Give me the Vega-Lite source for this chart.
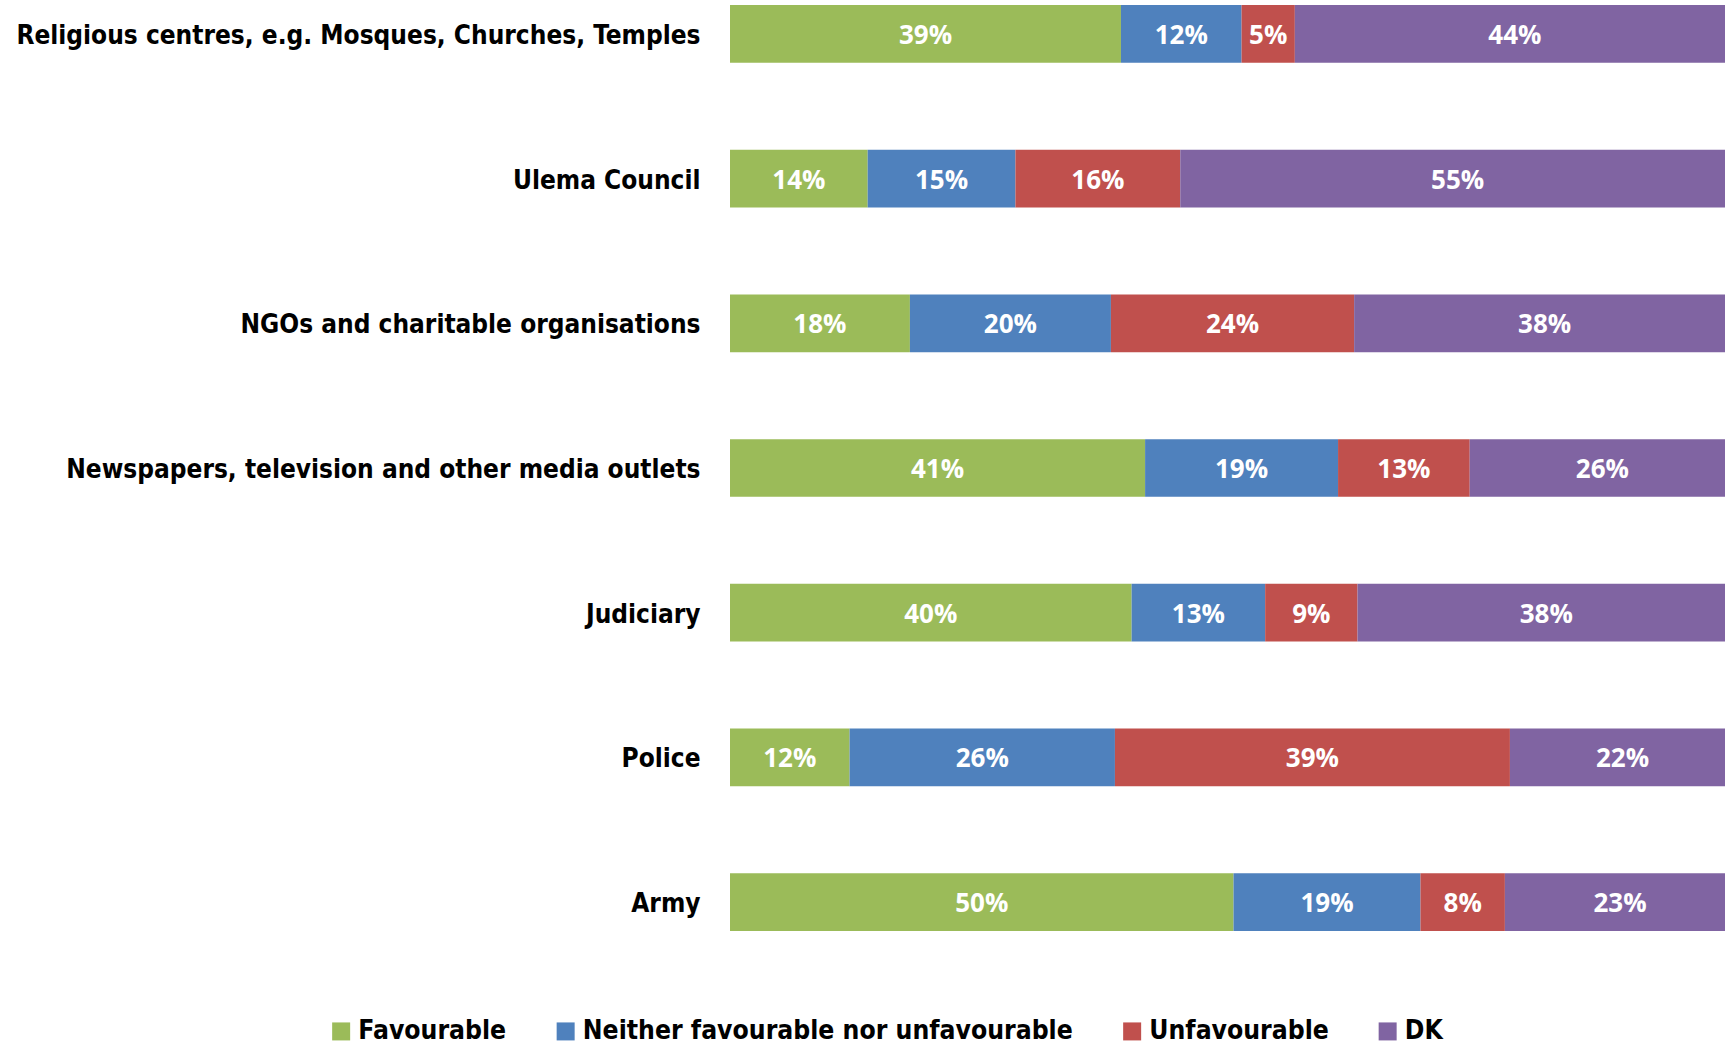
{
  "$schema": "https://vega.github.io/schema/vega-lite/v6.json",
  "width": 995,
  "height": 936,
  "autosize": {"type": "none"},
  "padding": {"left": 730, "top": 0, "right": 0, "bottom": 110},
  "background": "white",
  "config": {"view": {"stroke": null}},
  "data": {
    "values": [
      {"org": "Religious centres, e.g. Mosques, Churches, Temples", "cat": "Favourable", "k": 1, "v": 0.389},
      {"org": "Religious centres, e.g. Mosques, Churches, Temples", "cat": "Neither favourable nor unfavourable", "k": 2, "v": 0.120},
      {"org": "Religious centres, e.g. Mosques, Churches, Temples", "cat": "Unfavourable", "k": 3, "v": 0.053},
      {"org": "Religious centres, e.g. Mosques, Churches, Temples", "cat": "DK", "k": 4, "v": 0.438},
      {"org": "Ulema Council", "cat": "Favourable", "k": 1, "v": 0.137},
      {"org": "Ulema Council", "cat": "Neither favourable nor unfavourable", "k": 2, "v": 0.147},
      {"org": "Ulema Council", "cat": "Unfavourable", "k": 3, "v": 0.164},
      {"org": "Ulema Council", "cat": "DK", "k": 4, "v": 0.552},
      {"org": "NGOs and charitable organisations", "cat": "Favourable", "k": 1, "v": 0.179},
      {"org": "NGOs and charitable organisations", "cat": "Neither favourable nor unfavourable", "k": 2, "v": 0.200},
      {"org": "NGOs and charitable organisations", "cat": "Unfavourable", "k": 3, "v": 0.242},
      {"org": "NGOs and charitable organisations", "cat": "DK", "k": 4, "v": 0.379},
      {"org": "Newspapers, television and other media outlets", "cat": "Favourable", "k": 1, "v": 0.413},
      {"org": "Newspapers, television and other media outlets", "cat": "Neither favourable nor unfavourable", "k": 2, "v": 0.192},
      {"org": "Newspapers, television and other media outlets", "cat": "Unfavourable", "k": 3, "v": 0.131},
      {"org": "Newspapers, television and other media outlets", "cat": "DK", "k": 4, "v": 0.264},
      {"org": "Judiciary", "cat": "Favourable", "k": 1, "v": 0.400},
      {"org": "Judiciary", "cat": "Neither favourable nor unfavourable", "k": 2, "v": 0.133},
      {"org": "Judiciary", "cat": "Unfavourable", "k": 3, "v": 0.092},
      {"org": "Judiciary", "cat": "DK", "k": 4, "v": 0.376},
      {"org": "Police", "cat": "Favourable", "k": 1, "v": 0.119},
      {"org": "Police", "cat": "Neither favourable nor unfavourable", "k": 2, "v": 0.264},
      {"org": "Police", "cat": "Unfavourable", "k": 3, "v": 0.393},
      {"org": "Police", "cat": "DK", "k": 4, "v": 0.224},
      {"org": "Army", "cat": "Favourable", "k": 1, "v": 0.501},
      {"org": "Army", "cat": "Neither favourable nor unfavourable", "k": 2, "v": 0.186},
      {"org": "Army", "cat": "Unfavourable", "k": 3, "v": 0.084},
      {"org": "Army", "cat": "DK", "k": 4, "v": 0.229}
    ]
  },
  "encoding": {
    "y": {
      "field": "org",
      "type": "nominal",
      "sort": null,
      "scale": {"paddingInner": 0.601, "paddingOuter": 0.0346},
      "axis": {
        "title": null,
        "domain": false,
        "ticks": false,
        "labelPadding": 30,
        "labelLimit": 0,
        "labelOffset": 2,
        "labelFont": "'DejaVu Sans Condensed', sans-serif",
        "labelFontSize": 26,
        "labelFontWeight": "bold",
        "labelColor": "black"
      }
    }
  },
  "layer": [
    {
      "mark": {"type": "bar", "clip": true},
      "encoding": {
        "x": {
          "field": "v",
          "type": "quantitative",
          "stack": "normalize",
          "scale": {"domain": [0, 0.99], "nice": false, "zero": true},
          "axis": null
        },
        "color": {
          "field": "cat",
          "type": "nominal",
          "scale": {
            "domain": ["Favourable", "Neither favourable nor unfavourable", "Unfavourable", "DK"],
            "range": ["#9BBB59", "#4F81BD", "#C0504D", "#8064A2"]
          },
          "legend": {
            "orient": "none",
            "legendX": -402,
            "legendY": 1018,
            "direction": "horizontal",
            "title": null,
            "padding": 0,
            "symbolType": "square",
            "symbolSize": 324,
            "symbolStrokeWidth": 0,
            "labelFont": "'DejaVu Sans Condensed', sans-serif",
            "labelFontSize": 26.3,
            "labelFontWeight": "bold",
            "labelColor": "black",
            "labelOffset": 4,
            "labelLimit": 0,
            "columnPadding": 45.5
          }
        },
        "order": {"field": "k", "type": "quantitative"}
      }
    },
    {
      "mark": {"type": "text", "color": "white", "font": "Open Sans", "fontWeight": "bold", "fontSize": 26, "baseline": "middle", "align": "center", "dy": 2},
      "encoding": {
        "x": {
          "field": "v",
          "type": "quantitative",
          "stack": "normalize",
          "bandPosition": 0.5,
          "scale": {"domain": [0, 0.99], "nice": false, "zero": true}
        },
        "detail": {"field": "cat", "type": "nominal"},
        "order": {"field": "k", "type": "quantitative"},
        "text": {"field": "v", "type": "quantitative", "format": ".0%"}
      }
    }
  ]
}
